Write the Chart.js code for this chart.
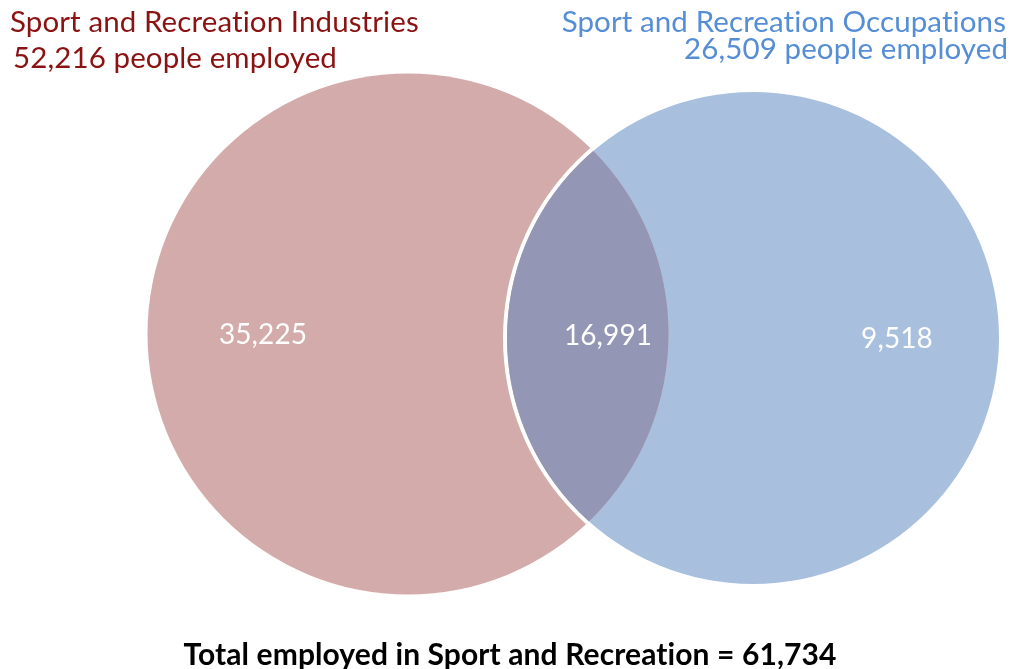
<!DOCTYPE html>
<html>
<head>
<meta charset="utf-8">
<script src="https://cdn.jsdelivr.net/npm/chart.js@4/dist/chart.umd.min.js"></script>
<style>
  html, body { margin: 0; padding: 0; background: #fff; }
  #wrap { width: 1014px; height: 669px; position: relative; }
</style>
</head>
<body>
<div id="wrap"><canvas id="vennChart"></canvas></div>
<script>
// data
const setNames = ["Sport and Recreation Industries", "Sport and Recreation Occupations"];
const setTotals = [52216, 26509];
const regionValues = [35225, 16991, 9518]; // industries only, both, occupations only
const grandTotal = 61734;

// layout (plane is 1014 x 669, same as the page)
const circleX = [408, 753];
const circleY = [334, 338];
const circleR = [260.5, 246];
const labelX = [263, 608, 897];
const labelY = [344, 345, 348];

const colors = ["#D4ABAB", "#A8C0DE"];
const overlapColor = "#9396B5";
const textColors = ["#8B1212", "#558ED5"];
const fontFamily = "Lato, 'Open Sans', sans-serif";

const fmt = v => v.toLocaleString("en-US");

const vennPlugin = {
  id: "venn",
  afterDatasetsDraw(chart) {
    const ctx = chart.ctx;
    const a = chart.getDatasetMeta(0).data[0];
    const b = chart.getDatasetMeta(1).data[0];
    const ra = a.options.radius, rb = b.options.radius;
    const xs = chart.scales.x, ys = chart.scales.y;

    // white seam along the occupations circle, inside the industries circle
    ctx.save();
    ctx.beginPath(); ctx.arc(a.x, a.y, ra, 0, Math.PI * 2); ctx.clip();
    ctx.beginPath(); ctx.arc(b.x, b.y, rb + 2, 0, Math.PI * 2);
    ctx.lineWidth = 4; ctx.strokeStyle = "#fff"; ctx.stroke();
    ctx.restore();

    // overlap lens
    ctx.save();
    ctx.beginPath(); ctx.arc(b.x, b.y, rb, 0, Math.PI * 2); ctx.clip();
    ctx.beginPath(); ctx.arc(a.x, a.y, ra, 0, Math.PI * 2);
    ctx.fillStyle = overlapColor; ctx.fill();
    ctx.restore();

    // region values
    ctx.save();
    ctx.letterSpacing = "0.1px"; // stops Lato's "ti" ligature
    ctx.fillStyle = "#fff";
    ctx.font = "28px " + fontFamily;
    ctx.textAlign = "center";
    ctx.textBaseline = "alphabetic";
    regionValues.forEach((v, i) => {
      ctx.fillText(fmt(v), xs.getPixelForValue(labelX[i]), ys.getPixelForValue(labelY[i]));
    });

    // set headings
    ctx.font = "29.5px " + fontFamily;
    ctx.fillStyle = textColors[0];
    ctx.textAlign = "left";
    ctx.fillText(setNames[0], 10, 32);
    ctx.fillText(fmt(setTotals[0]) + " people employed", 13, 68);
    ctx.fillStyle = textColors[1];
    ctx.textAlign = "right";
    ctx.fillText(setNames[1], 1006, 32);
    ctx.fillText(fmt(setTotals[1]) + " people employed", 1008, 59);

    // total
    ctx.font = "bold 30px " + fontFamily;
    ctx.fillStyle = "#000";
    ctx.textAlign = "center";
    ctx.fillText("Total employed in Sport and Recreation = " + fmt(grandTotal), 510, 665);
    ctx.restore();
  }
};

new Chart(document.getElementById("vennChart"), {
  type: "bubble",
  data: {
    datasets: [0, 1].map(i => ({
      label: setNames[i],
      data: [{ x: circleX[i], y: circleY[i], r: circleR[i] }],
      backgroundColor: colors[i],
      borderWidth: 0,
      clip: false
    }))
  },
  options: {
    responsive: true,
    maintainAspectRatio: false,
    animation: false,
    events: [],
    layout: { padding: 0, autoPadding: false },
    plugins: {
      legend: { display: false },
      tooltip: { enabled: false }
    },
    scales: {
      x: { type: "linear", min: 0, max: 1014, display: false },
      y: { type: "linear", min: 0, max: 669, reverse: true, display: false }
    }
  },
  plugins: [vennPlugin]
});
</script>
</body>
</html>
